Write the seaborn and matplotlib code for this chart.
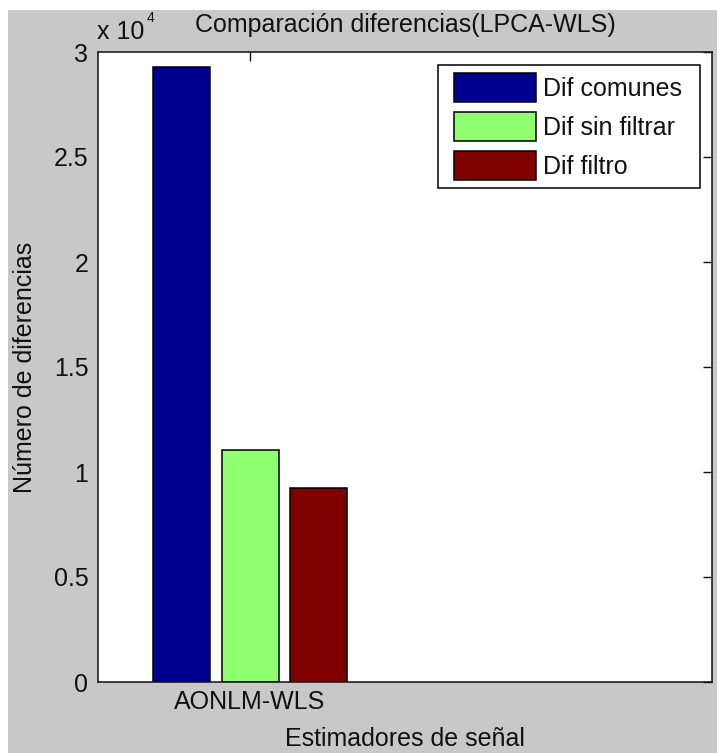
import matplotlib
matplotlib.use("Agg")
import matplotlib.pyplot as plt
import seaborn as sns
import pandas as pd
from matplotlib.patches import Rectangle
from matplotlib.legend_handler import HandlerPatch

# ---- data ----
categories = ["AONLM-WLS"]
series = ["Dif comunes", "Dif sin filtrar", "Dif filtro"]
values = [29300, 11050, 9240]
colors = ["#00008F", "#8FFF70", "#800000"]
yticks = [0, 5000, 10000, 15000, 20000, 25000, 30000]
ytick_labels = ["0", "0.5", "1", "1.5", "2", "2.5", "3"]
title = "Comparación diferencias(LPCA-WLS)"
xlabel = "Estimadores de señal"
ylabel = "Número de diferencias"

sns.set_theme(style="white")
plt.rcParams["font.family"] = ["Liberation Sans", "DejaVu Sans"]

df = pd.DataFrame({"est": categories * len(series), "serie": series, "n": values})

W, H = 717, 753
fig = plt.figure(figsize=(W / 100, H / 100), dpi=100, facecolor="white")
fig.patches.append(Rectangle((8 / W, 0), 1, (H - 10) / H, transform=fig.transFigure,
                             facecolor="#C8C8C8", edgecolor="none", zorder=-10))
ax = fig.add_axes([98 / W, (H - 682) / H, 614 / W, 630 / H])
ax.set_facecolor("white")

sns.barplot(data=df, x="est", y="n", hue="serie", hue_order=series, palette=colors,
            saturation=1, edgecolor="black", linewidth=1.1, gap=0.17,
            errorbar=None, ax=ax)

ax.set_xlim(-0.592, 1.798)
ax.set_ylim(0, 30000)
ax.set_yticks(yticks)
ax.set_yticklabels(ytick_labels)

for s in ax.spines.values():
    s.set_visible(True)
    s.set_color("#111111")
    s.set_linewidth(1.1)

ax.tick_params(axis="both", direction="in", length=6.5, width=1.0, color="#111111",
               top=True, right=True, labelsize=18, labelcolor="#111111")
ax.tick_params(axis="y", pad=7)
ax.tick_params(axis="x", pad=6)

ax.set_title(title, fontsize=18, pad=14.4, color="#111111")
ax.set_xlabel(xlabel, fontsize=18, color="#111111")
ax.set_ylabel(ylabel, fontsize=18, color="#111111")
ax.xaxis.set_label_coords(0.5, -0.0714)
ax.yaxis.set_label_coords(-0.0993, 0.5)

# offset text "x 10^4"
fig.text(97 / W, (H - 39) / H, "x 10", fontsize=18, color="#111111", va="baseline", ha="left")
fig.text(147 / W, (H - 22) / H, "4", fontsize=10, color="#111111", va="baseline", ha="left")

handles, labels = ax.get_legend_handles_labels()
for h, c in zip(handles, colors):
    h.set_facecolor(c)
    h.set_edgecolor("black")
    h.set_linewidth(1.1)
hmap = {type(h): HandlerPatch(xpad=0.32) for h in handles}
leg = ax.legend(handles, labels, loc="upper left",
                bbox_to_anchor=(0.5537, 0.5, 0.4267, 0.479), mode="expand",
                borderaxespad=0, fancybox=False, frameon=True, framealpha=1,
                edgecolor="black", fontsize=18, handlelength=3.6, handleheight=1.41,
                handletextpad=0.28, labelspacing=0.40, borderpad=0.32,
                handler_map=hmap)
leg.get_frame().set_linewidth(1.1)
for t in leg.get_texts():
    t.set_color("#111111")

fig.savefig("out.png", dpi=100, facecolor=fig.get_facecolor())
